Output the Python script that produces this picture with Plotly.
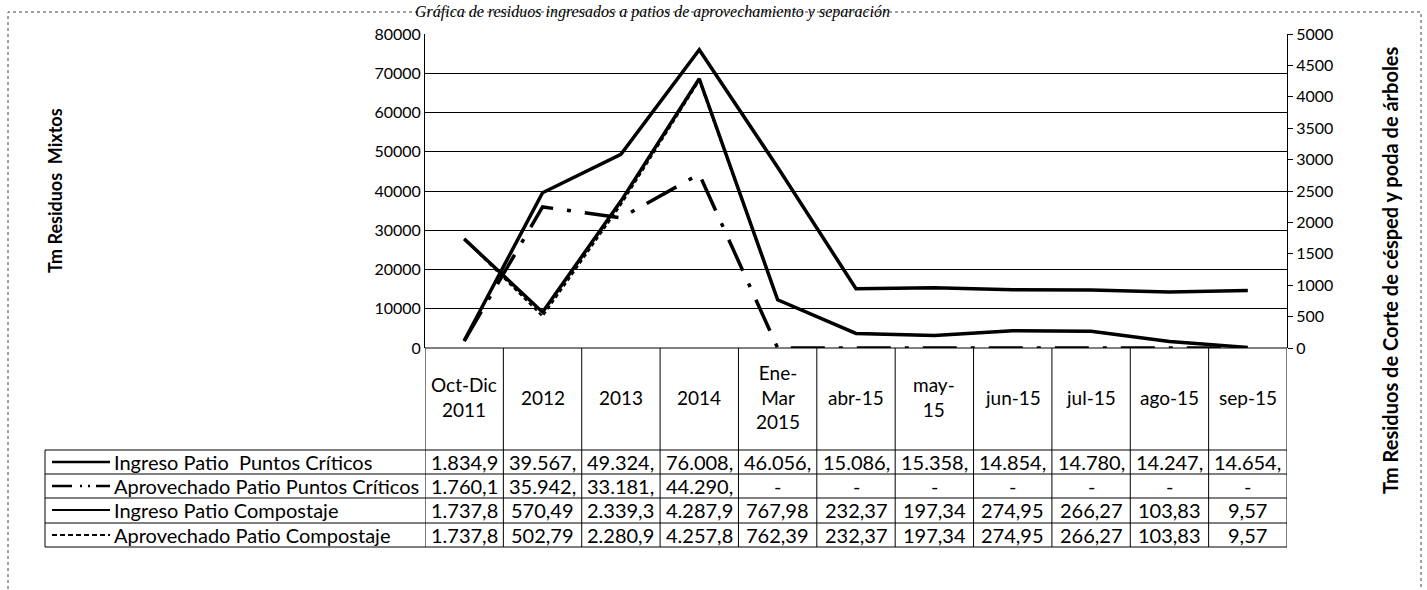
import plotly.graph_objects as go

# ---------------- data ----------------
categories = ["Oct-Dic 2011", "2012", "2013", "2014", "Ene-Mar 2015", "abr-15",
              "may-15", "jun-15", "jul-15", "ago-15", "sep-15"]
header_labels = ["Oct-Dic<br>2011", "2012", "2013", "2014", "Ene-<br>Mar<br>2015", "abr-15",
                 "may-<br>15", "jun-15", "jul-15", "ago-15", "sep-15"]

series_names = ["Ingreso Patio  Puntos Críticos",
                "Aprovechado Patio Puntos Críticos",
                "Ingreso Patio Compostaje",
                "Aprovechado Patio Compostaje"]

ingreso_pc = [1834.9, 39567, 49324, 76008, 46056, 15086, 15358, 14854, 14780, 14247, 14654]
aprov_pc = [1760.1, 35942, 33181, 44290, None, None, None, None, None, None, None]
ingreso_comp = [1737.8, 570.49, 2339.3, 4287.9, 767.98, 232.37, 197.34, 274.95, 266.27, 103.83, 9.57]
aprov_comp = [1737.8, 502.79, 2280.9, 4257.8, 762.39, 232.37, 197.34, 274.95, 266.27, 103.83, 9.57]

table_ingreso_pc = ["1.834,9", "39.567,", "49.324,", "76.008,", "46.056,", "15.086,",
                    "15.358,", "14.854,", "14.780,", "14.247,", "14.654,"]
table_aprov_pc = ["1.760,1", "35.942,", "33.181,", "44.290,", "-", "-", "-", "-", "-", "-", "-"]
table_ingreso_comp = ["1.737,8", "570,49", "2.339,3", "4.287,9", "767,98", "232,37",
                      "197,34", "274,95", "266,27", "103,83", "9,57"]
table_aprov_comp = ["1.737,8", "502,79", "2.280,9", "4.257,8", "762,39", "232,37",
                    "197,34", "274,95", "266,27", "103,83", "9,57"]

left_ticks = [0, 10000, 20000, 30000, 40000, 50000, 60000, 70000, 80000]
right_ticks = [0, 500, 1000, 1500, 2000, 2500, 3000, 3500, 4000, 4500, 5000]

title_text = "Gráfica de residuos ingresados a patios de aprovechamiento y separación"
left_title = "Tm Residuos&nbsp; Mixtos"
right_title = "Tm Residuos de Corte de césped y poda de árboles"

# ---------------- layout geometry ----------------
W, H = 1427, 590
ML, MR, MT, MB = 425, 140, 34, 242
PW = W - ML - MR
PH = H - MT - MB
FONT = "Lato, 'Open Sans', sans-serif"


def px(x):
    return (x - ML) / PW


def py(y):
    return (H - MB - y) / PH


xs = list(range(len(categories)))
aprov_pc_plot = [v if v is not None else 0 for v in aprov_pc]

fig = go.Figure()
fig.add_trace(go.Scatter(x=xs, y=aprov_pc_plot, mode="lines", name=series_names[1],
                         line=dict(color="black", width=3.5, dash="34px,14px,4px,14px")))
fig.add_trace(go.Scatter(x=xs, y=ingreso_pc, mode="lines", name=series_names[0],
                         line=dict(color="black", width=3.5)))
fig.add_trace(go.Scatter(x=xs, y=ingreso_comp, mode="lines", name=series_names[2],
                         yaxis="y2", line=dict(color="black", width=3.5)))
fig.add_trace(go.Scatter(x=xs, y=aprov_comp, mode="lines", name=series_names[3],
                         yaxis="y2", line=dict(color="black", width=2, dash="4px,3px")))

shapes = []
line_k = dict(color="black", width=1)
shapes.append(dict(type="line", xref="paper", yref="paper", x0=0, x1=1, y0=py(348), y1=py(348), line=line_k))
row_lines = [450, 474, 498, 523, 547]
for yl in row_lines:
    shapes.append(dict(type="line", xref="paper", yref="paper", x0=px(45), x1=1, y0=py(yl), y1=py(yl), line=line_k))
for i in range(len(categories) + 1):
    shapes.append(dict(type="line", xref="x", yref="paper", x0=i - 0.5, x1=i - 0.5,
                       y0=py(348), y1=py(547), line=line_k))
shapes.append(dict(type="line", xref="paper", yref="paper", x0=px(45), x1=px(45),
                   y0=py(450), y1=py(547), line=line_k))
# outer frame
shapes.append(dict(type="rect", xref="paper", yref="paper", x0=px(8), x1=px(1421),
                   y0=py(620), y1=py(12), line=dict(color="#444", width=1, dash="dot")))

# legend samples
row_centers = [462, 486, 510, 535]
sample_dash = ["solid", "20px,8px,2px,6px,2px,6px", "solid", "5px,3px"]
sample_width = [2.5, 2.5, 2, 2]
for rc, d, w in zip(row_centers, sample_dash, sample_width):
    shapes.append(dict(type="line", xref="paper", yref="paper", x0=px(52), x1=px(110),
                       y0=py(rc), y1=py(rc), line=dict(color="black", width=w, dash=d)))

annotations = []
tf = dict(family=FONT, size=19, color="black")
lf = dict(family=FONT, size=20, color="black")
for i, lab in enumerate(header_labels):
    annotations.append(dict(x=i, y=py(397), xref="x", yref="paper", text=lab, showarrow=False,
                            font=tf, align="center", yanchor="middle"))
rows = [table_ingreso_pc, table_aprov_pc, table_ingreso_comp, table_aprov_comp]
for rc, row in zip(row_centers, rows):
    for i, t in enumerate(row):
        annotations.append(dict(x=i, y=py(rc), xref="x", yref="paper", text=t, showarrow=False,
                                font=lf, yanchor="middle"))
for rc, nm in zip(row_centers, series_names):
    annotations.append(dict(x=px(112), y=py(rc), xref="paper", yref="paper", text=nm, showarrow=False,
                            font=lf, xanchor="left", yanchor="middle"))
annotations.append(dict(x=px(55), y=py(191), xref="paper", yref="paper", text="<b>" + left_title + "</b>",
                        showarrow=False, textangle=-90, xanchor="center", yanchor="middle",
                        font=dict(family=FONT, size=18, color="black")))
annotations.append(dict(x=px(1390), y=py(270), xref="paper", yref="paper", text="<b>" + right_title + "</b>",
                        showarrow=False, textangle=-90, xanchor="center", yanchor="middle",
                        font=dict(family=FONT, size=20, color="black")))
annotations.append(dict(x=px(652), y=py(1), xref="paper", yref="paper", text="<i>" + title_text + "</i>",
                        showarrow=False, font=dict(family="Liberation Serif, serif", size=16, color="black"),
                        xanchor="center", yanchor="top"))

fig.update_layout(
    width=W, height=H,
    margin=dict(l=ML, r=MR, t=MT, b=MB),
    paper_bgcolor="white", plot_bgcolor="white",
    showlegend=False,
    font=dict(family=FONT, size=15, color="black"),
    xaxis=dict(range=[-0.5, len(categories) - 0.5], showticklabels=False, showgrid=False,
               zeroline=False, showline=False, ticks="", fixedrange=True),
    yaxis=dict(range=[0, 80000], tickvals=left_ticks, ticktext=[str(v) for v in left_ticks],
               showgrid=True, gridcolor="black", gridwidth=1, zeroline=False,
               showline=True, linecolor="black", linewidth=1, ticks="",
               tickfont=dict(family=FONT, size=16, color="black")),
    yaxis2=dict(range=[0, 5000], tickvals=right_ticks, ticktext=[str(v) for v in right_ticks],
                overlaying="y", side="right", showgrid=False, zeroline=False,
                showline=True, linecolor="black", linewidth=1, ticks="outside", ticklen=5,
                tickcolor="black", tickfont=dict(family=FONT, size=16, color="black")),
    shapes=shapes,
    annotations=annotations,
)

fig.write_html("out.html", config={"displayModeBar": False},
               post_script="document.body.style.margin='0';document.body.style.overflow='hidden';")
